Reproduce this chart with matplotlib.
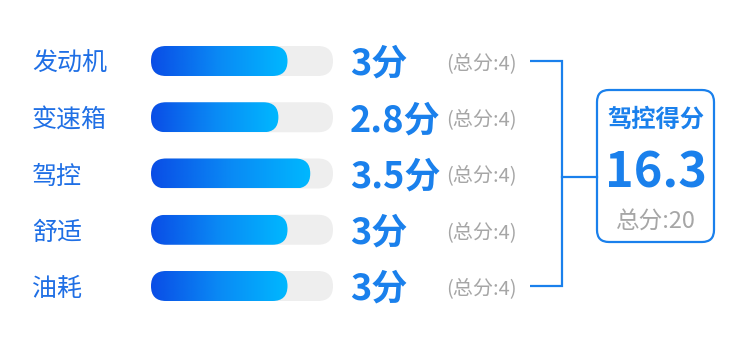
import numpy as np
import matplotlib.pyplot as plt
from matplotlib.patches import FancyBboxPatch
from matplotlib.colors import LinearSegmentedColormap
import matplotlib.transforms as mtransforms

plt.rcParams['font.family'] = ['Noto Sans CJK SC', 'DejaVu Sans']

# data
categories = ['发动机', '变速箱', '驾控', '舒适', '油耗']
scores = [3, 2.8, 3.5, 3, 3]
item_total = 4
summary_title = '驾控得分'
summary_score = 16.3
summary_total = 20

LABEL_BLUE = '#1f6fe5'
VALUE_BLUE = '#1a80ec'
GRAY = '#a6a6a6'
TRACK = '#eeeeee'
grad_cmap = LinearSegmentedColormap.from_list('bar', ['#0a4de6', '#0a8af5', '#00b8ff'])

W, H = 750, 339
fig = plt.figure(figsize=(W / 100, H / 100), dpi=100)

# overlay axes in pixel coordinates (y down)
ov = fig.add_axes([0, 0, 1, 1])
ov.set_xlim(0, W)
ov.set_ylim(H, 0)
ov.axis('off')

# bar axes: x in score units, y in rows
n = len(categories)
row_px = 56.25
top_px = 61 - row_px / 2
bar_x0, bar_w = 151, 182
ax = fig.add_axes([bar_x0 / W, (H - (top_px + n * row_px)) / H, bar_w / W, n * row_px / H])
ax.set_xlim(0, item_total)
ax.set_ylim(n - 0.5, -0.5)
ax.axis('off')

px_per_x = bar_w / item_total
bar_h = 30 / row_px
radius = 15 / px_per_x
aspect = px_per_x / row_px

grad = np.linspace(0, 1, 256).reshape(1, -1)
for i, (cat, v) in enumerate(zip(categories, scores)):
    track = FancyBboxPatch((0, i - bar_h / 2), item_total, bar_h,
                           boxstyle=f'round,pad=0,rounding_size={radius}',
                           mutation_aspect=aspect, fc=TRACK, ec='none', zorder=1)
    ax.add_patch(track)
    fill = FancyBboxPatch((0, i - bar_h / 2), v, bar_h,
                          boxstyle=f'round,pad=0,rounding_size={radius}',
                          mutation_aspect=aspect, fc='none', ec='none', zorder=1)
    ax.add_patch(fill)
    im = ax.imshow(grad, cmap=grad_cmap, extent=(0, v, i + bar_h / 2, i - bar_h / 2),
                   aspect='auto', interpolation='bicubic', zorder=2)
    im.set_clip_path(fill)
ax.set_xlim(0, item_total)
ax.set_ylim(n - 0.5, -0.5)

# texts per row: x in pixels, y in rows (baseline shifted down from row centre)
tr = mtransforms.blended_transform_factory(ov.transData, ax.transData)
tr_label = mtransforms.offset_copy(tr, fig, y=-10, units='dots')
tr_value = mtransforms.offset_copy(tr, fig, y=-14, units='dots')
tr_total = mtransforms.offset_copy(tr, fig, y=-8, units='dots')
for i, (cat, v) in enumerate(zip(categories, scores)):
    ov.text(32, i, cat, transform=tr_label, ha='left', va='baseline',
            fontsize=18, color=LABEL_BLUE)
    ov.text(350, i, f'{v:g}分', transform=tr_value, ha='left', va='baseline',
            fontsize=26, fontweight='bold', color=VALUE_BLUE)
    ov.text(446, i, f'(总分:{item_total})', transform=tr_total, ha='left', va='baseline',
            fontsize=14.5, color=GRAY)

# bracket
ov.plot([530, 562, 562, 530], [0, 0, n - 1, n - 1], transform=tr,
        color=VALUE_BLUE, lw=1.6, solid_capstyle='butt', solid_joinstyle='miter')
ov.plot([562, 597], [177, 177], color=VALUE_BLUE, lw=1.6)

# summary box
box = FancyBboxPatch((597, 90), 117, 152, boxstyle='round,pad=0,rounding_size=12',
                     fc='white', ec=VALUE_BLUE, lw=1.6)
ov.add_patch(box)
ov.text(656, 127, summary_title, ha='center', va='baseline', fontsize=17.5,
        fontweight='bold', color=VALUE_BLUE)
ov.text(656, 188, f'{summary_score:g}', ha='center', va='baseline', fontsize=35,
        fontweight='bold', color=VALUE_BLUE)
ov.text(656, 228.5, f'总分:{summary_total}', ha='center', va='baseline', fontsize=17,
        color=GRAY)

fig.savefig('out.png', dpi=100, facecolor='white')
